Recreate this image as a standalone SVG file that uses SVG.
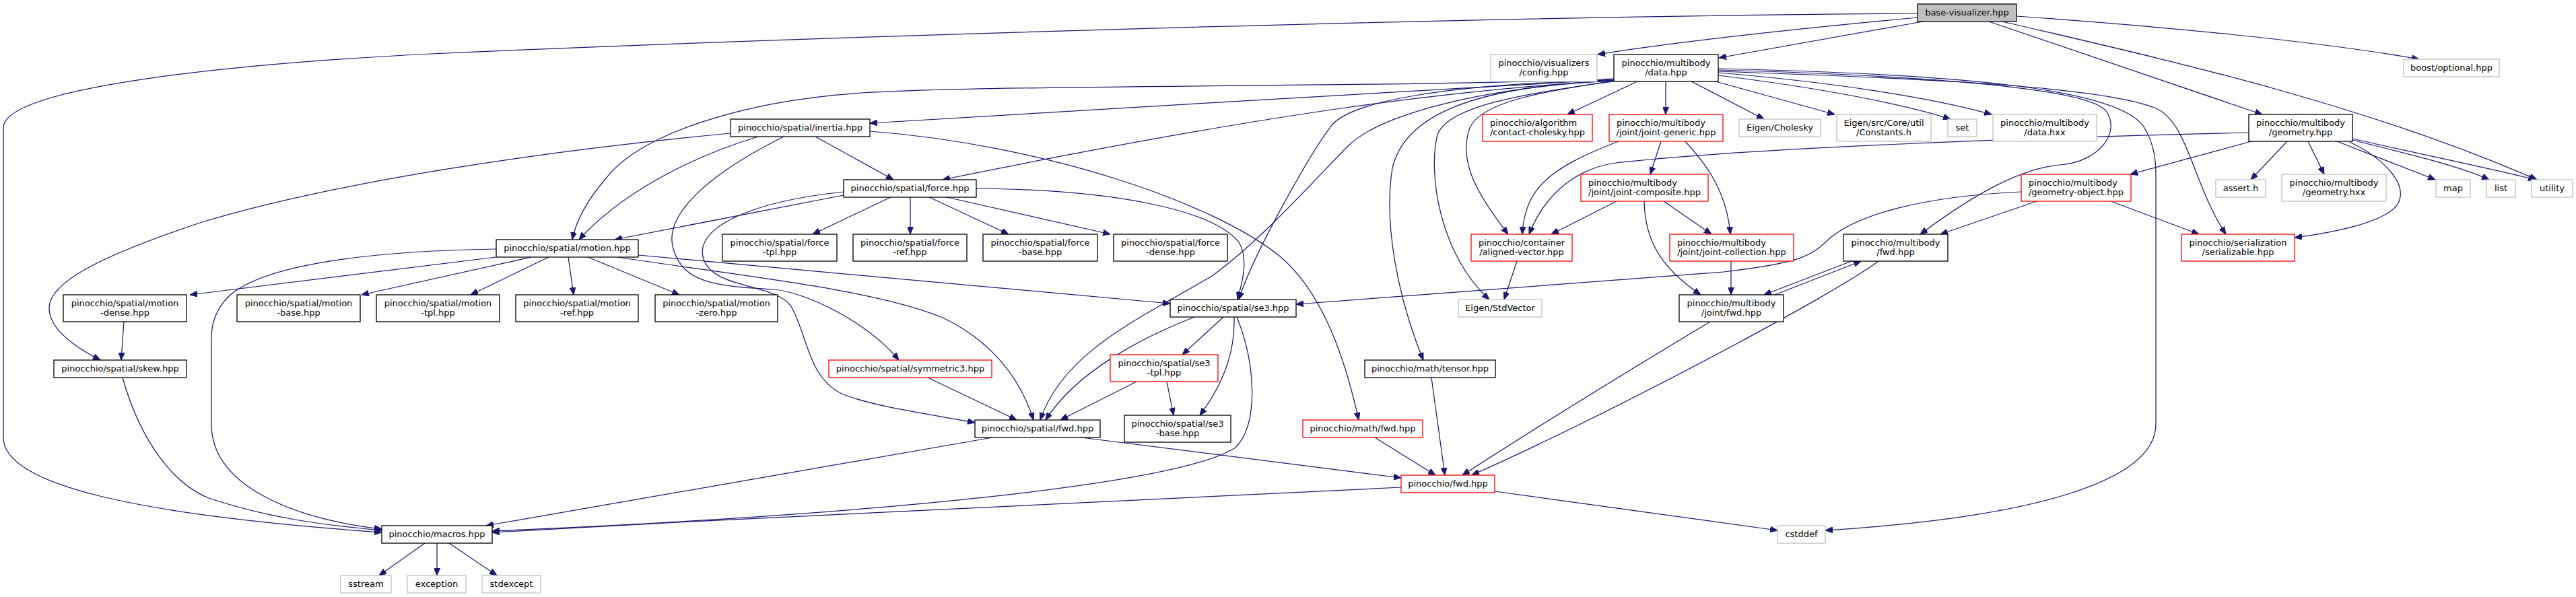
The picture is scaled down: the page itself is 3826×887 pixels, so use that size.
<svg xmlns="http://www.w3.org/2000/svg" width="3826" height="887" viewBox="0 0 3826 887">
<defs>
<marker id="ah" viewBox="0 0 11 9" refX="11" refY="4.5" markerWidth="11" markerHeight="9" markerUnits="userSpaceOnUse" orient="auto">
<path d="M0,0 L11,4.5 L0,9 z" fill="#191970" stroke="#191970" stroke-width="1"/>
</marker>
<style>
rect{fill:#ffffff;stroke:#000000;stroke-width:1.3}
.ext rect{stroke:#bfbfbf}
.tr rect{stroke:#ff0000}
.root rect{fill:#bfbfbf;stroke:#000000}
text{font-family:"DejaVu Sans","Liberation Sans",sans-serif;font-size:13px;fill:#000000}
.m{text-anchor:middle}
.s{text-anchor:start}
#edges path{fill:none;stroke:#191970;stroke-width:1.25;marker-end:url(#ah)}
</style>
</defs>
<rect x="0" y="0" width="3826" height="887" style="fill:#ffffff;stroke:none"/>
<g id="edges">
<path d="M2848,20 C2200,24 1200,55 640,80 C340,95 5,130 5,190 L5,650 C5,720 200,765 567,791"/>
<path d="M2848,26 C2700,40 2500,60 2373,81"/>
<path d="M2856,32 L2553,86"/>
<path d="M2954,32 L3360,170"/>
<path d="M2974,32 C3200,85 3500,150 3768,267"/>
<path d="M2995,24 C3200,38 3450,62 3593,88"/>
<path d="M2432,121 L2328,170"/>
<path d="M2474,121 L2474,170"/>
<path d="M2512,121 L2620,177"/>
<path d="M2548,121 L2725,170"/>
<path d="M2552,112 C2700,130 2830,155 2897,177"/>
<path d="M2552,108 C2720,122 2870,145 2958,170"/>
<path d="M2552,106 C2900,118 3120,130 3200,160 C3250,180 3255,270 3306,348"/>
<path d="M2552,104 C2850,112 3100,130 3128,165 C3150,195 3120,240 3060,245 C3000,250 2930,290 2852,348"/>
<path d="M2552,102 C2900,110 3150,130 3185,190 C3200,215 3202,240 3202,260 L3202,630 C3202,720 3000,770 2711,788"/>
<path d="M2397,118 C2200,128 1600,165 1292,183"/>
<path d="M2397,119 C2150,135 1900,165 1400,267"/>
<path d="M2397,117 C2100,130 1500,125 1280,138 C1100,150 950,200 900,265 C870,300 855,330 850,356"/>
<path d="M2397,119 C2150,125 2000,150 1975,190 C1945,230 1860,380 1840,445"/>
<path d="M2397,120 C2200,130 2050,170 2002,217 C1950,270 1870,360 1800,410 C1700,470 1580,520 1545,624"/>
<path d="M2397,120 C2180,128 2085,175 2068,250 C2055,330 2075,440 2114,535"/>
<path d="M2397,120 C2300,135 2200,150 2183,190 C2165,240 2195,290 2240,348"/>
<path d="M2397,121 C2250,140 2150,160 2135,200 C2120,260 2140,380 2212,445"/>
<path d="M3340,197 C3000,205 2600,220 2400,242 C2330,252 2290,300 2271,348"/>
<path d="M3344,210 L3164,259"/>
<path d="M3490,211 C3540,235 3580,275 3560,305 C3540,330 3470,345 3408,353"/>
<path d="M3397,210 L3343,267"/>
<path d="M3428,210 L3452,259"/>
<path d="M3471,210 L3617,267"/>
<path d="M3494,208 C3560,225 3650,245 3697,267"/>
<path d="M3494,206 C3600,230 3720,255 3766,267"/>
<path d="M3135,299 L3266,348"/>
<path d="M3025,299 L2882,348"/>
<path d="M3002,285 C2850,292 2760,320 2720,352 C2690,380 2680,390 2560,404 C2300,425 2100,440 1925,452"/>
<path d="M2750,388 L2620,438"/>
<path d="M2636,438 L2764,388"/>
<path d="M2790,388 C2720,440 2400,610 2186,706"/>
<path d="M2540,478 C2420,550 2290,630 2172,706"/>
<path d="M2571,388 L2571,438"/>
<path d="M2471,299 L2542,348"/>
<path d="M2401,299 L2304,348"/>
<path d="M2442,299 C2443,360 2470,400 2526,438"/>
<path d="M2467,210 L2451,259"/>
<path d="M2404,210 C2300,250 2265,280 2261,348"/>
<path d="M2503,210 C2540,250 2565,290 2570,348"/>
<path d="M2253,388 L2234,445"/>
<path d="M1085,198 C800,225 500,270 300,330 C150,380 70,420 73,460 C75,490 110,515 149,535"/>
<path d="M1126,203 C1020,235 920,290 860,356"/>
<path d="M1211,203 L1327,267"/>
<path d="M1164,203 C1050,260 985,320 1000,370 C1015,420 1060,425 1150,430 C1200,435 1290,480 1335,535"/>
<path d="M1292,195 C1550,215 1800,300 1900,380 C1960,430 1995,520 2018,624"/>
<path d="M1253,290 L913,356"/>
<path d="M1325,292 L1207,348"/>
<path d="M1352,292 L1352,348"/>
<path d="M1378,292 L1498,348"/>
<path d="M1402,292 L1649,348"/>
<path d="M1450,280 C1650,282 1800,310 1840,360 C1855,385 1845,420 1838,445"/>
<path d="M1253,285 C1110,300 1030,340 1045,385 C1060,430 1150,420 1175,455 C1200,500 1200,560 1250,585 C1300,605 1380,615 1448,628"/>
<path d="M737,370 C600,372 400,385 340,440 C310,470 314,500 314,520 L314,630 C314,720 430,770 567,786"/>
<path d="M737,382 L282,438"/>
<path d="M789,382 L537,438"/>
<path d="M815,382 L699,438"/>
<path d="M844,382 L852,438"/>
<path d="M873,382 L1009,438"/>
<path d="M917,382 C1100,410 1300,430 1400,472 C1470,505 1515,560 1535,624"/>
<path d="M948,379 L1738,451"/>
<path d="M184,478 L180,535"/>
<path d="M182,561 C210,660 260,720 310,740 C400,770 480,780 567,788"/>
<path d="M1474,650 L722,781"/>
<path d="M1606,650 L2081,710"/>
<path d="M1837,471 C1865,540 1870,630 1835,665 C1750,720 1300,765 731,789"/>
<path d="M1817,471 L1756,527"/>
<path d="M1833,471 C1835,530 1810,580 1782,617"/>
<path d="M1774,471 C1700,500 1600,550 1553,624"/>
<path d="M1688,567 L1575,624"/>
<path d="M1733,567 L1743,617"/>
<path d="M1378,561 L1510,624"/>
<path d="M2042,650 L2132,706"/>
<path d="M2126,561 L2146,706"/>
<path d="M2081,724 C1700,740 1200,765 731,791"/>
<path d="M2220,730 L2640,788"/>
<path d="M631,807 L563,855"/>
<path d="M649,807 L649,855"/>
<path d="M667,807 L738,855"/>
</g>
<g id="n0" class="root"><rect x="2848" y="6" width="147" height="26"/><text class="m" x="2921.5" y="23">base-visualizer.hpp</text></g>
<g id="n1" class="ext"><rect x="2214" y="81" width="158" height="40"/><text class="m" x="2293" y="97.5">pinocchio/visualizers</text><text class="m" x="2293" y="111.5">/config.hpp</text></g>
<g id="n2"><rect x="2397" y="81" width="155" height="40"/><text class="m" x="2474.5" y="97.5">pinocchio/multibody</text><text class="m" x="2474.5" y="111.5">/data.hpp</text></g>
<g id="n3" class="ext"><rect x="3570" y="88" width="142" height="26"/><text class="m" x="3641" y="105">boost/optional.hpp</text></g>
<g id="n4"><rect x="3340" y="170" width="154" height="40"/><text class="m" x="3417" y="186.5">pinocchio/multibody</text><text class="m" x="3417" y="200.5">/geometry.hpp</text></g>
<g id="n5" class="ext"><rect x="3760" y="267" width="61" height="26"/><text class="m" x="3790.5" y="284">utility</text></g>
<g id="n6" class="ext"><rect x="3693" y="267" width="43" height="26"/><text class="m" x="3714.5" y="284">list</text></g>
<g id="n7" class="ext"><rect x="3618" y="267" width="51" height="26"/><text class="m" x="3643.5" y="284">map</text></g>
<g id="n8" class="ext"><rect x="3389" y="259" width="155" height="40"/><text class="m" x="3466.5" y="275.5">pinocchio/multibody</text><text class="m" x="3466.5" y="289.5">/geometry.hxx</text></g>
<g id="n9" class="ext"><rect x="3291" y="267" width="74" height="26"/><text class="m" x="3328" y="284">assert.h</text></g>
<g id="n10" class="tr"><rect x="3240" y="348" width="168" height="40"/><text class="m" x="3324" y="364.5">pinocchio/serialization</text><text class="m" x="3324" y="378.5">/serializable.hpp</text></g>
<g id="n11" class="tr"><rect x="3002" y="259" width="163" height="40"/><text class="s" x="3013" y="275.5">pinocchio/multibody</text><text class="m" x="3083.5" y="289.5">/geometry-object.hpp</text></g>
<g id="n12" class="ext"><rect x="2960" y="170" width="154" height="40"/><text class="m" x="3037" y="186.5">pinocchio/multibody</text><text class="m" x="3037" y="200.5">/data.hxx</text></g>
<g id="n13" class="ext"><rect x="2893" y="177" width="43" height="26"/><text class="m" x="2914.5" y="194">set</text></g>
<g id="n14" class="ext"><rect x="2728" y="170" width="140" height="40"/><text class="m" x="2798" y="186.5">Eigen/src/Core/util</text><text class="m" x="2798" y="200.5">/Constants.h</text></g>
<g id="n15" class="ext"><rect x="2583" y="177" width="121" height="26"/><text class="m" x="2643.5" y="194">Eigen/Cholesky</text></g>
<g id="n16" class="tr"><rect x="2390" y="170" width="169" height="40"/><text class="s" x="2401" y="186.5">pinocchio/multibody</text><text class="m" x="2474.5" y="200.5">/joint/joint-generic.hpp</text></g>
<g id="n17" class="tr"><rect x="2202" y="170" width="163" height="40"/><text class="s" x="2213" y="186.5">pinocchio/algorithm</text><text class="m" x="2283.5" y="200.5">/contact-cholesky.hpp</text></g>
<g id="n18"><rect x="1085" y="177" width="207" height="26"/><text class="m" x="1188.5" y="194">pinocchio/spatial/inertia.hpp</text></g>
<g id="n19"><rect x="1253" y="267" width="197" height="26"/><text class="m" x="1351.5" y="284">pinocchio/spatial/force.hpp</text></g>
<g id="n20" class="tr"><rect x="2348" y="259" width="189" height="40"/><text class="s" x="2359" y="275.5">pinocchio/multibody</text><text class="m" x="2442.5" y="289.5">/joint/joint-composite.hpp</text></g>
<g id="n21"><rect x="737" y="356" width="211" height="26"/><text class="m" x="842.5" y="373">pinocchio/spatial/motion.hpp</text></g>
<g id="n22"><rect x="1073" y="348" width="170" height="40"/><text class="m" x="1158" y="364.5">pinocchio/spatial/force</text><text class="m" x="1158" y="378.5">-tpl.hpp</text></g>
<g id="n23"><rect x="1267" y="348" width="169" height="40"/><text class="m" x="1351.5" y="364.5">pinocchio/spatial/force</text><text class="m" x="1351.5" y="378.5">-ref.hpp</text></g>
<g id="n24"><rect x="1460" y="348" width="170" height="40"/><text class="m" x="1545" y="364.5">pinocchio/spatial/force</text><text class="m" x="1545" y="378.5">-base.hpp</text></g>
<g id="n25"><rect x="1654" y="348" width="169" height="40"/><text class="m" x="1738.5" y="364.5">pinocchio/spatial/force</text><text class="m" x="1738.5" y="378.5">-dense.hpp</text></g>
<g id="n26" class="tr"><rect x="2185" y="348" width="150" height="40"/><text class="s" x="2196" y="364.5">pinocchio/container</text><text class="m" x="2260" y="378.5">/aligned-vector.hpp</text></g>
<g id="n27" class="tr"><rect x="2480" y="348" width="184" height="40"/><text class="s" x="2491" y="364.5">pinocchio/multibody</text><text class="m" x="2572" y="378.5">/joint/joint-collection.hpp</text></g>
<g id="n28"><rect x="2738" y="348" width="155" height="40"/><text class="m" x="2815.5" y="364.5">pinocchio/multibody</text><text class="m" x="2815.5" y="378.5">/fwd.hpp</text></g>
<g id="n29"><rect x="94" y="438" width="183" height="40"/><text class="m" x="185.5" y="454.5">pinocchio/spatial/motion</text><text class="m" x="185.5" y="468.5">-dense.hpp</text></g>
<g id="n30"><rect x="352" y="438" width="183" height="40"/><text class="m" x="443.5" y="454.5">pinocchio/spatial/motion</text><text class="m" x="443.5" y="468.5">-base.hpp</text></g>
<g id="n31"><rect x="559" y="438" width="183" height="40"/><text class="m" x="650.5" y="454.5">pinocchio/spatial/motion</text><text class="m" x="650.5" y="468.5">-tpl.hpp</text></g>
<g id="n32"><rect x="766" y="438" width="182" height="40"/><text class="m" x="857" y="454.5">pinocchio/spatial/motion</text><text class="m" x="857" y="468.5">-ref.hpp</text></g>
<g id="n33"><rect x="973" y="438" width="182" height="40"/><text class="m" x="1064" y="454.5">pinocchio/spatial/motion</text><text class="m" x="1064" y="468.5">-zero.hpp</text></g>
<g id="n34"><rect x="1738" y="445" width="187" height="26"/><text class="m" x="1831.5" y="462">pinocchio/spatial/se3.hpp</text></g>
<g id="n35" class="ext"><rect x="2166" y="445" width="124" height="26"/><text class="m" x="2228" y="462">Eigen/StdVector</text></g>
<g id="n36"><rect x="2494" y="438" width="155" height="40"/><text class="m" x="2571.5" y="454.5">pinocchio/multibody</text><text class="m" x="2571.5" y="468.5">/joint/fwd.hpp</text></g>
<g id="n37"><rect x="80" y="535" width="197" height="26"/><text class="m" x="178.5" y="552">pinocchio/spatial/skew.hpp</text></g>
<g id="n38" class="tr"><rect x="1231" y="535" width="242" height="26"/><text class="m" x="1352" y="552">pinocchio/spatial/symmetric3.hpp</text></g>
<g id="n39" class="tr"><rect x="1649" y="527" width="160" height="40"/><text class="m" x="1729" y="543.5">pinocchio/spatial/se3</text><text class="m" x="1729" y="557.5">-tpl.hpp</text></g>
<g id="n40"><rect x="2027" y="535" width="194" height="26"/><text class="m" x="2124" y="552">pinocchio/math/tensor.hpp</text></g>
<g id="n41"><rect x="1448" y="624" width="186" height="26"/><text class="m" x="1541" y="641">pinocchio/spatial/fwd.hpp</text></g>
<g id="n42"><rect x="1670" y="617" width="158" height="40"/><text class="m" x="1749" y="633.5">pinocchio/spatial/se3</text><text class="m" x="1749" y="647.5">-base.hpp</text></g>
<g id="n43" class="tr"><rect x="1935" y="624" width="178" height="26"/><text class="m" x="2024" y="641">pinocchio/math/fwd.hpp</text></g>
<g id="n44" class="tr"><rect x="2081" y="706" width="139" height="26"/><text class="m" x="2150.5" y="723">pinocchio/fwd.hpp</text></g>
<g id="n45"><rect x="567" y="781" width="164" height="26"/><text class="m" x="649" y="798">pinocchio/macros.hpp</text></g>
<g id="n46" class="ext"><rect x="2640" y="781" width="71" height="26"/><text class="m" x="2675.5" y="798">cstddef</text></g>
<g id="n47" class="ext"><rect x="506" y="855" width="75" height="26"/><text class="m" x="543.5" y="872">sstream</text></g>
<g id="n48" class="ext"><rect x="605" y="855" width="87" height="26"/><text class="m" x="648.5" y="872">exception</text></g>
<g id="n49" class="ext"><rect x="716" y="855" width="87" height="26"/><text class="m" x="759.5" y="872">stdexcept</text></g>
</svg>
